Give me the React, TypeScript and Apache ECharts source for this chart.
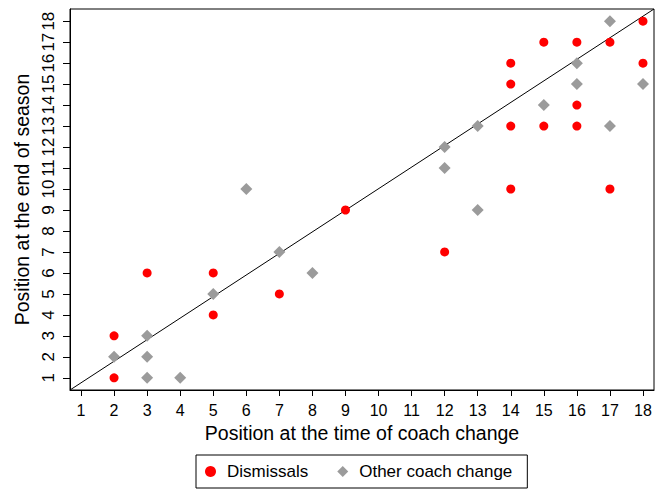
import React, { useEffect, useRef } from "react";
import * as echarts from "echarts";

const ticks = [1, 2, 3, 4, 5, 6, 7, 8, 9, 10, 11, 12, 13, 14, 15, 16, 17, 18];

const dismissals: [number, number][] = [
  [2, 1], [2, 3], [3, 6], [5, 6], [5, 4], [7, 5], [9, 9], [12, 7],
  [14, 16], [14, 15], [14, 13], [14, 10], [15, 17], [15, 13],
  [16, 17], [16, 14], [16, 13], [17, 17], [17, 10], [18, 18], [18, 16],
];

const otherChange: [number, number][] = [
  [2, 2], [3, 3], [3, 2], [3, 1], [4, 1], [5, 5], [6, 10], [7, 7], [8, 6],
  [12, 12], [12, 11], [13, 13], [13, 9], [15, 14], [16, 16], [16, 15],
  [17, 18], [17, 13], [18, 15],
];

const xRange = [0.667, 18.333];
const yRange = [0.42, 18.58];

const FONT = "'Liberation Sans', Arial, sans-serif";

export default function App() {
  const ref = useRef<HTMLDivElement>(null);
  useEffect(() => {
    if (!ref.current) return;
    const chart = echarts.init(ref.current, null, { renderer: "svg" });
    chart.setOption({
      animation: false,
      backgroundColor: "#fff",
      textStyle: { fontFamily: FONT, color: "#000" },
      grid: {
        left: 70,
        right: 3,
        top: 9,
        bottom: 100,
        show: true,
        borderColor: "#000",
        borderWidth: 1,
        containLabel: false,
      },
      legend: {
        left: 196,
        top: 455,
        padding: [8, 15, 8, 9],
        itemWidth: 11,
        itemHeight: 11,
        itemGap: 29,
        borderColor: "#000",
        borderWidth: 1,
        textStyle: { fontFamily: FONT, fontSize: 17, color: "#000", padding: [0, 0, 0, 6] },
        data: [
          { name: "Dismissals", icon: "circle" },
          { name: "Other coach change", icon: "diamond" },
        ],
      },
      xAxis: {
        type: "value",
        min: xRange[0],
        max: xRange[1],
        name: "Position at the time of coach change",
        nameLocation: "middle",
        nameGap: 32,
        nameTextStyle: { fontFamily: FONT, fontSize: 19.5, color: "#000" },
        axisLine: { show: true, onZero: false, lineStyle: { color: "#000", width: 1 } },
        axisTick: { show: true, length: 6, customValues: ticks, lineStyle: { color: "#000" } },
        axisLabel: { customValues: ticks, margin: 12, fontSize: 16, color: "#000", fontFamily: FONT },
        splitLine: { show: false },
      },
      yAxis: {
        type: "value",
        min: yRange[0],
        max: yRange[1],
        name: "Position at the end of season",
        nameLocation: "middle",
        nameGap: 36,
        nameTextStyle: { fontFamily: FONT, fontSize: 19.5, color: "#000" },
        axisLine: { show: true, onZero: false, lineStyle: { color: "#000", width: 1 } },
        axisTick: { show: true, length: 7, customValues: ticks, lineStyle: { color: "#000" } },
        axisLabel: { customValues: ticks, margin: 13, fontSize: 17, rotate: 90, color: "#000", fontFamily: FONT },
        splitLine: { show: false },
      },
      series: [
        {
          type: "line",
          name: "diagonal",
          data: [
            [xRange[0], yRange[0]],
            [xRange[1], yRange[1]],
          ],
          symbol: "none",
          silent: true,
          z: 1,
          lineStyle: { color: "#000", width: 1 },
        },
        {
          type: "scatter",
          name: "Dismissals",
          data: dismissals,
          symbol: "circle",
          symbolSize: 9,
          z: 3,
          itemStyle: { color: "#ff0000", opacity: 1 },
        },
        {
          type: "scatter",
          name: "Other coach change",
          data: otherChange,
          symbol: "diamond",
          symbolSize: 12,
          z: 2,
          itemStyle: { color: "#9b9b9b", opacity: 1 },
        },
      ],
    });
    return () => chart.dispose();
  }, []);
  return (
    <div
      ref={ref}
      style={{ position: "absolute", left: 0, top: 0, width: 657, height: 490 }}
    />
  );
}
